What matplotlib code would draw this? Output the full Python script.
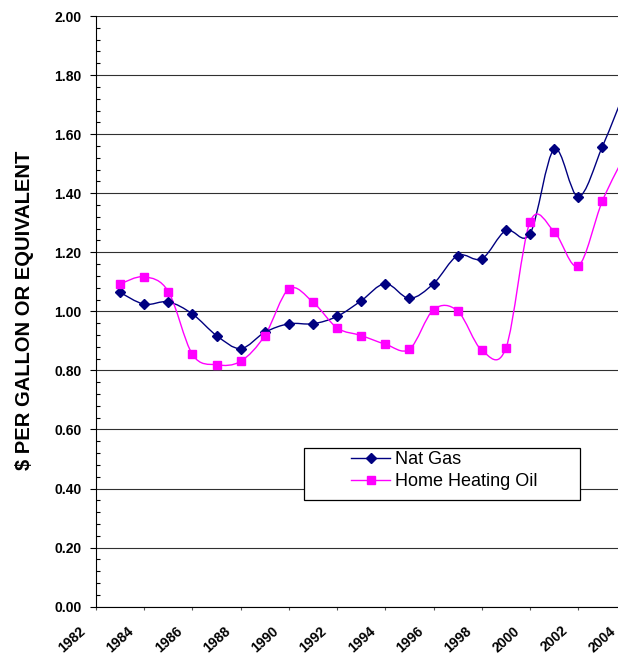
import matplotlib
matplotlib.use("Agg")
import matplotlib.pyplot as plt
from matplotlib.path import Path
from matplotlib.patches import PathPatch, Rectangle
from matplotlib.lines import Line2D
from matplotlib.ticker import MultipleLocator, FormatStrFormatter
from matplotlib.transforms import blended_transform_factory, ScaledTranslation

years = [1983, 1984, 1985, 1986, 1987, 1988, 1989, 1990, 1991, 1992, 1993,
         1994, 1995, 1996, 1997, 1998, 1999, 2000, 2001, 2002, 2003, 2004]
nat_gas = [1.064, 1.024, 1.032, 0.991, 0.918, 0.874, 0.929, 0.958, 0.958, 0.983, 1.036,
           1.094, 1.044, 1.094, 1.189, 1.178, 1.274, 1.263, 1.549, 1.388, 1.558, 1.76]
heating_oil = [1.093, 1.117, 1.067, 0.854, 0.819, 0.831, 0.918, 1.076, 1.031, 0.944, 0.918,
               0.889, 0.872, 1.006, 1.001, 0.868, 0.876, 1.303, 1.270, 1.154, 1.374, 1.54]
tick_years = list(range(1982, 2006, 2))
tick_labels = [str(y) for y in tick_years]
series_names = ["Nat Gas", "Home Heating Oil"]
ylabel = "$ PER GALLON OR EQUIVALENT"

plt.rcParams['font.family'] = ['Liberation Sans', 'DejaVu Sans']

W, H = 618, 654
fig = plt.figure(figsize=(W / 100, H / 100), dpi=100)
px_per_year = 24.115
x0, y0pix, ytop = 96, 606.7, 16
ax = fig.add_axes([x0 / W, (H - y0pix) / H, 23 * px_per_year / W, (y0pix - ytop) / H])
ax.set_xlim(1982, 2005)
ax.set_ylim(0, 2)

for s in ['top', 'right']:
    ax.spines[s].set_visible(False)
for s in ['left', 'bottom']:
    ax.spines[s].set_color('black')
    ax.spines[s].set_linewidth(0.8)

ax.yaxis.set_major_locator(MultipleLocator(0.2))
ax.yaxis.set_minor_locator(MultipleLocator(0.04))
ax.yaxis.set_major_formatter(FormatStrFormatter('%.2f'))
ax.yaxis.grid(True, which='major', color='#303030', lw=0.8)
ax.set_axisbelow(True)
ax.tick_params(axis='y', which='major', direction='out', length=4.3, width=0.8, pad=6,
               labelsize=10)
ax.tick_params(axis='y', which='minor', direction='in', length=3, width=0.8)
for lab in ax.get_yticklabels():
    lab.set_fontweight('bold')

ax.set_xticks(tick_years)
ax.set_xticklabels([])
ax.tick_params(axis='x', which='major', direction='out', length=2.5, width=0.8,
               color='#555555')

trans = blended_transform_factory(ax.transData, ax.transAxes) + \
    ScaledTranslation(-0.17, -0.17, fig.dpi_scale_trans)
for yr, lab in zip(tick_years, tick_labels):
    ax.text(yr, 0, lab, transform=trans, rotation=42, ha='right', va='top',
            rotation_mode='anchor', fontsize=10, fontweight='bold', clip_on=False)


def smooth_path(x, y):
    verts = [(x[0], y[0])]
    codes = [Path.MOVETO]
    n = len(x)
    for i in range(n - 1):
        p0 = i - 1 if i > 0 else i
        p3 = i + 2 if i + 2 < n else i + 1
        c1 = (x[i] + (x[i + 1] - x[p0]) / 6, y[i] + (y[i + 1] - y[p0]) / 6)
        c2 = (x[i + 1] - (x[p3] - x[i]) / 6, y[i + 1] - (y[p3] - y[i]) / 6)
        verts += [c1, c2, (x[i + 1], y[i + 1])]
        codes += [Path.CURVE4] * 3
    return Path(verts, codes)


styles = [('#000080', 'D', 4.6), ('#FF00FF', 's', 5.4)]
handles = []
for vals, (col, mk, ms), name in zip([nat_gas, heating_oil], styles, series_names):
    ax.add_patch(PathPatch(smooth_path(years, vals), fill=False, edgecolor=col, lw=1.0,
                           transform=ax.transData, zorder=3))
    ax.plot(years, vals, linestyle='none', marker=mk, markersize=ms, color=col,
            markeredgecolor=col, zorder=4)
    handles.append(Line2D([0], [0], color=col, lw=1.0, marker=mk, markersize=ms,
                          markeredgecolor=col))

fig.text(25 / W, 1 - 310 / H, ylabel, rotation=90, ha='center', va='center',
         fontsize=14.5, fontweight='bold')

rect = Rectangle((304 / W, 1 - 500.3 / H), 276 / W, 52.6 / H, transform=fig.transFigure,
                 facecolor='white', edgecolor='black', lw=0.9, zorder=5)
fig.patches.append(rect)
leg = fig.legend(handles, series_names, loc='upper left',
                 bbox_to_anchor=(351 / W, 1 - 451 / H), frameon=False, borderpad=0,
                 borderaxespad=0, handlelength=2.16, handletextpad=0.28,
                 labelspacing=0.3, fontsize=13, numpoints=1)
leg.set_zorder(6)

fig.savefig('out.png', dpi=100)
